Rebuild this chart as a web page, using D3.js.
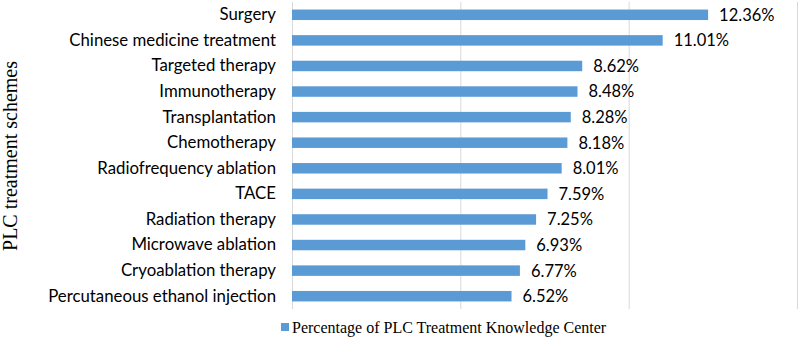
<!DOCTYPE html>
<html><head><meta charset="utf-8">
<script src="https://cdn.jsdelivr.net/npm/d3@7"></script>
<style>body{margin:0;background:#fff}</style>
</head><body>
<svg id="c" width="799" height="342"></svg>
<script>
const categories = ["Surgery","Chinese medicine treatment","Targeted therapy","Immunotherapy","Transplantation","Chemotherapy","Radiofrequency ablation","TACE","Radiation therapy","Microwave ablation","Cryoablation therapy","Percutaneous ethanol injection"];
const values = [12.36,11.01,8.62,8.48,8.28,8.18,8.01,7.59,7.25,6.93,6.77,6.52];
const gridTicks = [0,5,10,15];
const seriesName = "Percentage of PLC Treatment Knowledge Center";
const axisTitle = "PLC treatment schemes";

const svg = d3.select("#c");
const x = d3.scaleLinear().domain([0,15]).range([292,797]);
const y = d3.scaleBand().domain(categories).range([2,309]).paddingInner(0.59).paddingOuter(0.295);

svg.append("g").selectAll("line").data(gridTicks).join("line")
  .attr("x1",d=>x(d)+0.5).attr("x2",d=>x(d)+0.5).attr("y1",2).attr("y2",309)
  .attr("stroke","#d9d9d9").attr("stroke-width",1);

svg.append("g").selectAll("rect").data(values).join("rect")
  .attr("x",x(0)).attr("y",(d,i)=>y(categories[i]))
  .attr("width",d=>x(d)-x(0)).attr("height",y.bandwidth())
  .attr("fill","#5b9bd5");

svg.append("g").selectAll("text").data(values).join("text")
  .attr("x",d=>x(d)+11).attr("y",(d,i)=>y(categories[i])+y.bandwidth()/2)
  .attr("dy","0.36em").attr("font-family","Lato, 'Open Sans', sans-serif").attr("font-size",16.5)
  .attr("fill","#000").text(d=>d.toFixed(2)+"%");

const yAxis = d3.axisLeft(y).tickSize(0).tickPadding(16);
const ga = svg.append("g").attr("transform",`translate(${x(0)},0)`).call(yAxis);
ga.select(".domain").remove();
ga.selectAll("text").attr("font-family","Lato, 'Open Sans', sans-serif").attr("font-size",16.8).attr("fill","#000");

svg.append("text").attr("transform","translate(17,156) rotate(-90)")
  .attr("text-anchor","middle").attr("font-family","'Liberation Serif', 'Times New Roman', serif")
  .attr("font-size",20).attr("fill","#000").text(axisTitle);

const lg = svg.append("g");
lg.append("rect").attr("x",281).attr("y",323).attr("width",8).attr("height",8).attr("fill","#5b9bd5");
lg.append("text").attr("x",292).attr("y",327).attr("dy","0.35em")
  .attr("font-family","'Liberation Serif', 'Times New Roman', serif").attr("font-size",16)
  .attr("fill","#000").text(seriesName);
</script>
</body></html>
